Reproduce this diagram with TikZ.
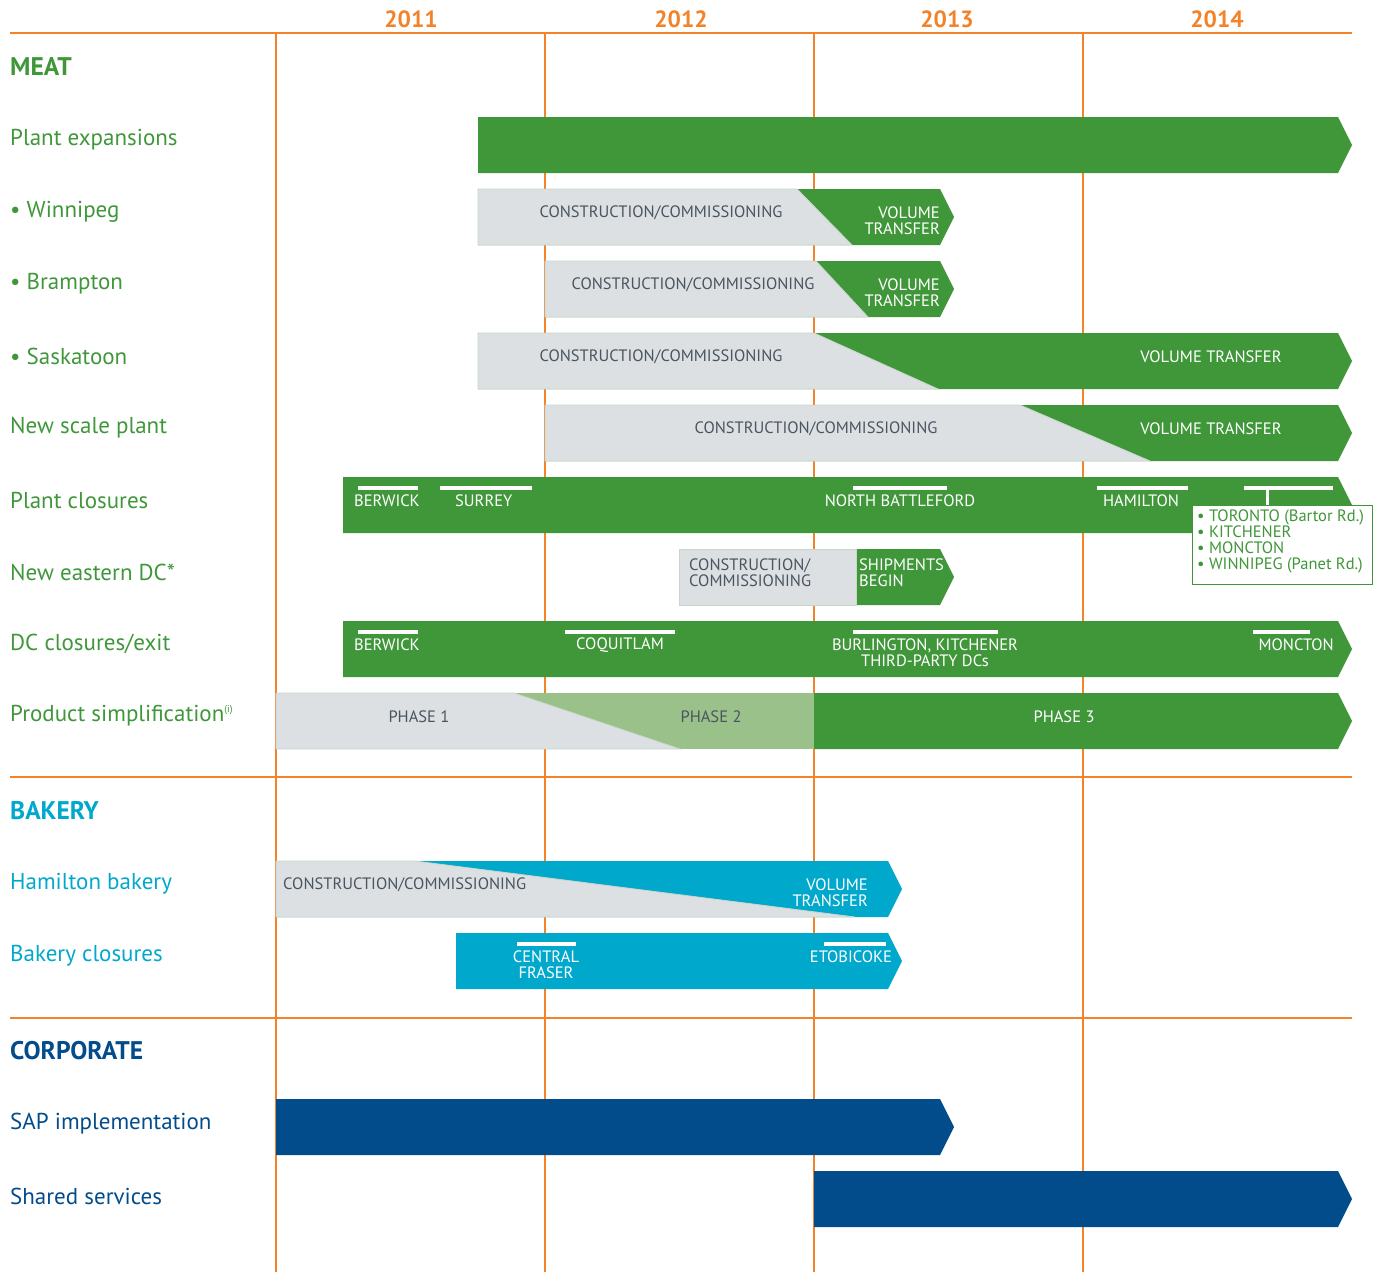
\documentclass[tikz,border=0pt]{standalone}
\usepackage{fontspec}
\setmainfont{PT Sans}
\usepackage{tikz}

\definecolor{lineorange}{RGB}{243,130,40}
\definecolor{meatgreen}{RGB}{64,151,58}
\definecolor{phasegreen}{RGB}{155,193,138}
\definecolor{planbgrey}{RGB}{220,224,227}
\definecolor{greyedge}{RGB}{200,214,204}
\definecolor{greyink}{RGB}{75,85,96}
\definecolor{bakeblue}{RGB}{0,168,204}
\definecolor{corpblue}{RGB}{3,76,140}

\tikzset{
  gridline/.style={lineorange, line width=2.4pt},
  yearlabel/.style={text=lineorange, font=\fontsize{23.5}{26}\selectfont\bfseries},
  headlabel/.style={anchor=west, inner sep=0pt, font=\fontsize{25.5}{28}\selectfont\bfseries},
  rowlabel/.style={anchor=west, inner sep=0pt, font=\fontsize{23}{26}\selectfont},
  bartext/.style={inner sep=0pt, text=white, align=center, font=\fontsize{16.5}{16}\selectfont},
  greytext/.style={bartext, text=greyink},
  closemark/.style={white, line width=4pt},
  greypart/.style={fill=planbgrey, draw=greyedge, line width=0.8pt},
}

% bar with an arrow tip: colour, left x, right x, centre y
\newcommand{\tipbar}[4]{%
  \fill[#1] (#2,#4-28) -- (#3,#4-28) -- (#3+14,#4) -- (#3,#4+28) -- (#2,#4+28) -- cycle;}
% grey part of a bar: left x, top x, bottom x, centre y
\newcommand{\greybar}[4]{%
  \filldraw[greypart] (#2,#4+28) -- (#1,#4+28) -- (#1,#4-28) -- (#2,#4-28) -- (#3,#4+28) -- cycle;}

\begin{document}
\begin{tikzpicture}[x=1pt, y=-1pt]
\useasboundingbox (0,0) rectangle (1380,1272);

% grid
\foreach \x in {276,545,814,1083}
  \draw[gridline] (\x,33) -- (\x,1272);
\foreach \y in {33,777,1018}
  \draw[gridline] (10,\y) -- (1352,\y);
\foreach \yr/\x in {2011/411, 2012/681, 2013/947, 2014/1217}
  \node[yearlabel] (y\yr) at (\x,19) {\yr};

% left column
\node[headlabel, text=meatgreen] (meat) at (10,67) {MEAT};
\foreach \n/\y/\t in {pexp/139/Plant expansions, wpg/211/• Winnipeg, bra/283/• Brampton,
    sas/355/• Saskatoon, nsp/427/New scale plant, pcl/499/Plant closures,
    edc/571/New eastern DC*, dcc/643/{DC closures/exit}}
  \node[rowlabel, text=meatgreen] (\n) at (10,\y+1) {\t};
\node[rowlabel, text=meatgreen] (psim) at (10,716) {Product simplification\textsuperscript{\fontsize{10}{10}\selectfont (i)}};
\node[headlabel, text=bakeblue] (bakery) at (10,811) {BAKERY};
\node[rowlabel, text=bakeblue] (hbak) at (10,884) {Hamilton bakery};
\node[rowlabel, text=bakeblue] (bcl) at (10,956) {Bakery closures};
\node[headlabel, text=corpblue] (corp) at (10,1051) {CORPORATE};
\node[rowlabel, text=corpblue] (sap) at (10,1124) {SAP implementation};
\node[rowlabel, text=corpblue] (shs) at (10,1196) {Shared services};

% meat bars
\tipbar{meatgreen}{478}{1338}{145}

\tipbar{meatgreen}{478}{940}{217}
\greybar{478}{797}{852}{217}
\node[greytext] (wc) at (661,213) {CONSTRUCTION/COMMISSIONING};
\node[bartext, align=right, anchor=east] (wv) at (940,221) {VOLUME\\TRANSFER};

\tipbar{meatgreen}{545}{940}{289}
\greybar{545}{816}{868}{289}
\node[greytext] (bc) at (693,285) {CONSTRUCTION/COMMISSIONING};
\node[bartext, align=right, anchor=east] (bv) at (940,293) {VOLUME\\TRANSFER};

\tipbar{meatgreen}{478}{1338}{361}
\greybar{478}{814}{938}{361}
\node[greytext] (sc) at (661,357) {CONSTRUCTION/COMMISSIONING};
\node[bartext] (sv) at (1211,357) {VOLUME TRANSFER};

\tipbar{meatgreen}{545}{1338}{433}
\greybar{545}{1020}{1150}{433}
\node[greytext] (nc) at (816,429) {CONSTRUCTION/COMMISSIONING};
\node[bartext] (nv) at (1211,429) {VOLUME TRANSFER};

% plant closures
\tipbar{meatgreen}{343}{1338}{505}
\foreach \a/\b in {358/418, 440/532, 853/947, 1097/1188, 1244/1333}
  \draw[closemark] (\a,488) -- (\b,488);
\node[bartext, anchor=west] (pc1) at (354,501) {BERWICK};
\node[bartext, anchor=west] (pc2) at (455,501) {SURREY};
\node[bartext] (pc3) at (900,501) {NORTH BATTLEFORD};
\node[bartext] (pc4) at (1141,501) {HAMILTON};
\node[draw=meatgreen, fill=white, line width=1pt, anchor=north west, minimum width=180pt,
  minimum height=79pt, inner sep=0pt] (pbox) at (1192,505) {};
\draw[white, line width=3pt] (1267,488) -- (pbox.north -| 1267,0);
\node[anchor=north west, inner sep=0pt, text=meatgreen, align=left,
  font=\fontsize{16.5}{16}\selectfont] (plist) at (1197,510)
  {• TORONTO (Bartor Rd.)\\• KITCHENER\\• MONCTON\\• WINNIPEG (Panet Rd.)};

% new eastern DC
\tipbar{meatgreen}{856}{940}{577}
\filldraw[greypart] (679,549) rectangle (856,605);
\node[greytext, align=left, anchor=west] (ec) at (689,573) {CONSTRUCTION/\\COMMISSIONING};
\node[bartext, align=left, anchor=west] (es) at (859,573) {SHIPMENTS\\BEGIN};

% DC closures
\tipbar{meatgreen}{343}{1338}{649}
\foreach \a/\b in {358/418, 565/675, 853/998, 1253/1310}
  \draw[closemark] (\a,632) -- (\b,632);
\node[bartext, anchor=west] (dc1) at (354,645) {BERWICK};
\node[bartext, anchor=west] (dc2) at (576,645) {COQUITLAM};
\node[bartext] (dc3) at (925,653) {BURLINGTON, KITCHENER\\THIRD-PARTY DCs};
\node[bartext, anchor=east] (dc4) at (1334,645) {MONCTON};

% product simplification
\tipbar{meatgreen}{814}{1338}{721}
\fill[phasegreen] (514,693) rectangle (814,749);
\filldraw[greypart] (680,749) -- (276,749) -- (276,693) -- (514,693) -- cycle;
\node[greytext] (ph1) at (419,717) {PHASE 1};
\node[greytext] (ph2) at (711,717) {PHASE 2};
\node[bartext] (ph3) at (1064,717) {PHASE 3};

% bakery bars
\tipbar{bakeblue}{276}{888}{889}
\greybar{276}{415}{855}{889}
\node[greytext, anchor=west] (hc) at (283,885) {CONSTRUCTION/COMMISSIONING};
\node[bartext, align=right, anchor=east] (hv) at (868,893) {VOLUME\\TRANSFER};

\tipbar{bakeblue}{456}{888}{961}
\foreach \a/\b in {517/576, 824/886}
  \draw[closemark] (\a,944) -- (\b,944);
\node[bartext] (bk1) at (546,965) {CENTRAL\\FRASER};
\node[bartext] (bk2) at (851,957) {ETOBICOKE};

% corporate bars
\tipbar{corpblue}{276}{940}{1127}
\tipbar{corpblue}{814}{1338}{1199}

\end{tikzpicture}
\end{document}
